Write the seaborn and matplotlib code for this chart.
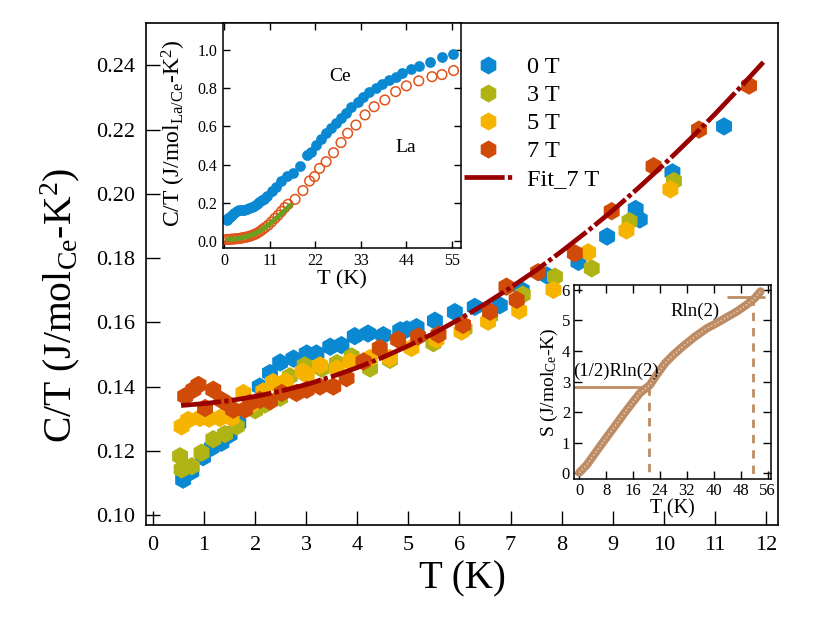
import numpy as np
import pandas as pd
import matplotlib
matplotlib.use("Agg")
import matplotlib.pyplot as plt
import seaborn as sns
from matplotlib.lines import Line2D

# ---------------- main panel data (C/T vs T) ----------------
T_0T = [0.59, 0.75, 0.98, 1.15, 1.34, 1.50, 1.67, 1.90, 2.09, 2.29, 2.49, 2.75, 3.01, 3.20,
        3.47, 3.69, 3.95, 4.21, 4.51, 4.84, 4.97, 5.16, 5.52, 5.91, 6.30, 6.79, 7.22, 7.71,
        8.33, 8.89, 9.45, 9.53, 10.17, 11.18]
C_0T = [0.1110, 0.1135, 0.1180, 0.1210, 0.1225, 0.1250, 0.1285, 0.1337, 0.1400, 0.1442,
        0.1475, 0.1487, 0.1503, 0.1503, 0.1524, 0.1529, 0.1557, 0.1565, 0.1560, 0.1575,
        0.1578, 0.1585, 0.1605, 0.1632, 0.1648, 0.1653, 0.1700, 0.1746, 0.1788, 0.1867,
        0.1953, 0.1920, 0.2067, 0.2210]

T_3T = [0.53, 0.56, 0.76, 0.95, 1.18, 1.41, 1.64, 2.00, 2.19, 2.49, 2.68, 2.97, 3.30, 3.60,
        3.89, 4.25, 4.64, 5.49, 6.10, 6.60, 7.24, 7.87, 8.59, 9.33, 10.20]
C_3T = [0.1183, 0.1142, 0.1152, 0.1194, 0.1236, 0.1252, 0.1276, 0.1326, 0.1344, 0.1365,
        0.1432, 0.1466, 0.1456, 0.1473, 0.1494, 0.1456, 0.1483, 0.1535, 0.1580, 0.1620,
        0.1686, 0.1742, 0.1768, 0.1915, 0.2040]

T_5T = [0.56, 0.69, 0.92, 1.10, 1.31, 1.54, 1.77, 1.95, 2.16, 2.35, 2.60, 2.93, 3.01, 3.27,
        3.60, 3.86, 4.25, 4.64, 5.06, 5.55, 6.04, 6.56, 7.17, 7.84, 8.52, 9.27, 10.13]
C_5T = [0.1276, 0.1296, 0.1302, 0.1300, 0.1302, 0.1302, 0.1380, 0.1345, 0.1385, 0.1414,
        0.1416, 0.1446, 0.1437, 0.1466, 0.1456, 0.1478, 0.1489, 0.1489, 0.1520, 0.1546,
        0.1571, 0.1602, 0.1636, 0.1701, 0.1818, 0.1886, 0.2014]

T_7T = [0.63, 0.79, 0.89, 1.02, 1.18, 1.34, 1.47, 1.57, 1.80, 1.90, 2.09, 2.29, 2.52, 2.81,
        3.01, 3.27, 3.53, 3.79, 4.12, 4.44, 4.80, 5.19, 5.59, 6.07, 6.60, 6.92, 7.12, 7.54,
        8.26, 8.98, 9.80, 10.69, 11.67]
C_7T = [0.1370, 0.1390, 0.1405, 0.1333, 0.1390, 0.1358, 0.1345, 0.1328, 0.1328, 0.1349,
        0.1358, 0.1354, 0.1380, 0.1380, 0.1390, 0.1400, 0.1400, 0.1426, 0.1478, 0.1520,
        0.1546, 0.1556, 0.1562, 0.1592, 0.1633, 0.1711, 0.1670, 0.1756, 0.1815, 0.1946,
        0.2086, 0.2200, 0.2337]

T_fit = [0.55, 1.0, 1.5, 2.0, 2.5, 3.0, 3.5, 4.0, 4.5, 5.0, 5.5, 6.0, 6.5, 7.0, 7.5, 8.0,
         8.5, 9.0, 9.5, 10.0, 10.5, 11.0, 11.5, 11.95]
C_fit = [0.1341, 0.1347, 0.1356, 0.1369, 0.1386, 0.1406, 0.1431, 0.1459, 0.1491, 0.1527,
         0.1566, 0.1610, 0.1657, 0.1708, 0.1762, 0.1821, 0.1883, 0.1948, 0.2018, 0.2091,
         0.2168, 0.2248, 0.2332, 0.2410]

field_labels = ["0 T", "3 T", "5 T", "7 T"]
fit_label = "Fit_7 T"

# ---------------- inset 1 data (Ce and La C/T) ----------------
T_Ce = [0.6, 1.0, 1.4, 1.8, 2.4, 3.0, 3.6, 4.2, 4.8, 5.4, 6.0, 6.6, 7.2, 7.8, 8.4, 9.0, 9.6,
        10.2, 11.4, 12.6, 13.8, 15.1, 16.6, 18.4, 20.0, 21.0, 22.2, 23.4, 24.6, 25.8, 27.0,
        28.2, 29.4, 30.7, 32.2, 33.6, 35.0, 36.6, 38.2, 39.8, 41.4, 43.0, 45.0, 47.0, 49.8,
        52.6, 55.2]
C_Ce = [0.110, 0.118, 0.126, 0.134, 0.146, 0.156, 0.160, 0.162, 0.164, 0.168, 0.172, 0.178,
        0.185, 0.193, 0.202, 0.212, 0.222, 0.234, 0.262, 0.285, 0.312, 0.340, 0.356, 0.393,
        0.448, 0.468, 0.503, 0.532, 0.564, 0.590, 0.616, 0.646, 0.672, 0.700, 0.726, 0.752,
        0.778, 0.800, 0.822, 0.843, 0.860, 0.881, 0.899, 0.916, 0.939, 0.962, 0.977]

T_La = [0.5, 1.0, 1.5, 2.0, 2.5, 3.0, 3.5, 4.0, 4.5, 5.0, 5.5, 6.0, 6.5, 7.0, 7.5, 8.0, 8.6,
        9.2, 9.8, 10.6, 11.4, 12.2, 13.0, 13.8, 14.6, 15.4, 17.1, 19.0, 20.6, 21.8, 23.0,
        24.6, 26.4, 28.2, 29.8, 31.8, 34.0, 36.2, 38.8, 41.4, 44.0, 47.0, 50.2, 52.6, 55.4]
C_La = [0.008, 0.008, 0.009, 0.010, 0.011, 0.012, 0.013, 0.015, 0.017, 0.019, 0.021, 0.024,
        0.028, 0.032, 0.036, 0.042, 0.050, 0.060, 0.070, 0.083, 0.100, 0.118, 0.135, 0.155,
        0.175, 0.192, 0.218, 0.264, 0.314, 0.337, 0.380, 0.415, 0.462, 0.515, 0.564, 0.607,
        0.660, 0.703, 0.738, 0.782, 0.812, 0.838, 0.860, 0.871, 0.892]

T_Lafit = [0.8, 3.0, 5.0, 7.0, 9.0, 11.0, 13.0, 15.0, 16.0]
C_Lafit = [0.008, 0.012, 0.020, 0.035, 0.058, 0.090, 0.128, 0.168, 0.188]

# ---------------- inset 2 data (entropy) ----------------
T_S = [0.0, 2.2, 6.1, 10.1, 14.1, 18.0, 21.0, 23.0, 25.5, 27.9, 30.9, 34.4, 37.9, 40.8,
       43.8, 46.8, 49.7, 52.2, 53.9]
S_val = [0.02, 0.27, 0.87, 1.47, 2.07, 2.62, 2.89, 3.22, 3.60, 3.87, 4.16, 4.47, 4.74, 4.91,
         5.10, 5.29, 5.51, 5.73, 5.95]
S_half = 2.82
S_full = 5.76
T_half = 20.8
T_full = 51.7

# ---------------- style ----------------
sns.set_theme(style="white")
plt.rcParams["font.family"] = ["Liberation Serif", "DejaVu Serif"]
plt.rcParams["mathtext.fontset"] = "custom"
plt.rcParams["mathtext.rm"] = "Liberation Serif"
plt.rcParams["mathtext.it"] = "Liberation Serif:italic"
plt.rcParams["mathtext.bf"] = "Liberation Serif:bold"
plt.rcParams["axes.edgecolor"] = "black"
plt.rcParams["text.color"] = "black"
plt.rcParams["axes.labelcolor"] = "black"
plt.rcParams["xtick.color"] = "black"
plt.rcParams["ytick.color"] = "black"

col_0 = "#0a88d2"
col_3 = "#afb414"
col_5 = "#f6b400"
col_7 = "#d04a08"
col_fit = "#990000"
col_La = "#e0541c"
col_green = "#6aa01e"
col_S = "#be8c64"
fit_dash = (0, (8.5, 0.7, 0.9, 0.7))

fig = plt.figure(figsize=(8.3, 6.2), dpi=100)
ax = fig.add_axes([0.1759, 0.154, 0.7614, 0.8089])

df = pd.concat([
    pd.DataFrame({"T": T_0T, "CT": C_0T, "field": field_labels[0]}),
    pd.DataFrame({"T": T_3T, "CT": C_3T, "field": field_labels[1]}),
    pd.DataFrame({"T": T_5T, "CT": C_5T, "field": field_labels[2]}),
    pd.DataFrame({"T": T_7T, "CT": C_7T, "field": field_labels[3]}),
], ignore_index=True)
pal = dict(zip(field_labels, [col_0, col_3, col_5, col_7]))
sns.scatterplot(data=df, x="T", y="CT", hue="field", palette=pal, marker="h", s=175,
                linewidth=0, ax=ax, legend=False, zorder=2)
sns.lineplot(x=T_fit, y=C_fit, color=col_fit, lw=3.4, linestyle=fit_dash, ax=ax,
             sort=False, estimator=None, zorder=3)

ax.set_xlim(-0.137, 12.236)
ax.set_ylim(0.09704, 0.2532)
ax.set_xticks(range(0, 13))
ax.set_yticks([0.10, 0.12, 0.14, 0.16, 0.18, 0.20, 0.22, 0.24])
ax.set_yticklabels([f"{v:.2f}" for v in [0.10, 0.12, 0.14, 0.16, 0.18, 0.20, 0.22, 0.24]])
ax.tick_params(direction="in", length=10, width=1, labelsize=16, top=False, right=False,
               left=True, bottom=True, pad=8)
for sp in ax.spines.values():
    sp.set_linewidth(1.2)
    sp.set_color("black")
ax.set_xlabel("T (K)", fontsize=28, labelpad=4)
ax.set_ylabel(r"C/T (J/mol$_{\mathrm{Ce}}$-K$^{2}$)", fontsize=28.5)
ax.yaxis.set_label_coords(-0.101, 0.438)

handles = [Line2D([], [], marker="h", ls="none", ms=13, color=c, mec="none")
           for c in [col_0, col_3, col_5, col_7]]
handles.append(Line2D([], [], color=col_fit, lw=3.4, linestyle=fit_dash))
ax.legend(handles, field_labels + [fit_label], loc="upper left",
          bbox_to_anchor=(452 / 830, 1 - 44 / 620), bbox_transform=fig.transFigure,
          frameon=False, fontsize=17.5, handlelength=2.0, handletextpad=0.6,
          labelspacing=0.25, borderpad=0)

# ---------------- inset 1 ----------------
ax1 = fig.add_axes([0.2683, 0.6005, 0.2871, 0.3624])
ax1.set_facecolor("white")
sns.scatterplot(x=T_Ce, y=C_Ce, color=col_0, s=60, linewidth=0, ax=ax1, zorder=2)
sns.scatterplot(x=T_La, y=C_La, marker="o", s=48, facecolors="none", edgecolors=col_La,
                linewidth=1.1, ax=ax1, zorder=2)
sns.lineplot(x=T_Lafit, y=C_Lafit, color=col_green, lw=3.5, ax=ax1, sort=False,
             estimator=None, zorder=3)
ax1.set_xlim(-0.4, 57.2)
ax1.set_ylim(-0.035, 1.141)
ax1.set_xticks([0, 11, 22, 33, 44, 55])
ax1.set_yticks([0.0, 0.2, 0.4, 0.6, 0.8, 1.0])
ax1.set_yticklabels([f"{v:.1f}" for v in [0.0, 0.2, 0.4, 0.6, 0.8, 1.0]])
ax1.tick_params(direction="in", length=5, width=1, labelsize=11.5, top=True, right=True,
                left=True, bottom=True, pad=4)
for sp in ax1.spines.values():
    sp.set_linewidth(1.1)
    sp.set_color("black")
ax1.set_xlabel("T (K)", fontsize=16, labelpad=1)
ax1.set_ylabel(r"C/T (J/mol$_{\mathrm{La/Ce}}$-K$^{2}$)", fontsize=17)
ax1.yaxis.set_label_coords(-0.146, 0.51)
ax1.text(27.9, 0.86, "Ce", fontsize=14, ha="center", va="center")
ax1.text(43.8, 0.49, "La", fontsize=14, ha="center", va="center")

# ---------------- inset 2 ----------------
ax2 = fig.add_axes([0.6919, 0.2274, 0.2366, 0.3129])
ax2.set_facecolor("white")
sns.lineplot(x=T_S, y=S_val, color=col_S, lw=6, ax=ax2, sort=False, estimator=None, zorder=3)
sns.lineplot(x=T_S, y=S_val, color="#ecd6c0", lw=1.0, linestyle=":", ax=ax2, sort=False,
             estimator=None, zorder=4)
ax2.set_xlim(-1.5, 56.9)
ax2.set_ylim(-0.19, 6.16)
ax2.plot([-1.5, T_half], [S_half, S_half], color=col_S, lw=2, zorder=2)
ax2.plot([T_half, T_half], [S_half, -0.19], color=col_S, lw=2, ls=(0, (3, 2.5)), zorder=2)
ax2.plot([44.1, 55.0], [S_full, S_full], color=col_S, lw=2, zorder=2)
ax2.plot([T_full, T_full], [S_full, -0.19], color=col_S, lw=2, ls=(0, (3, 2.5)), zorder=2)
ax2.set_xticks(range(0, 57, 8))
ax2.set_yticks(range(0, 7))
ax2.tick_params(direction="in", length=6, width=1, labelsize=12, top=True, right=True,
                left=True, bottom=True, pad=3)
for sp in ax2.spines.values():
    sp.set_linewidth(1.1)
    sp.set_color("black")
ax2.set_xlabel("T (K)", fontsize=14.5, labelpad=0)
ax2.set_ylabel(r"S (J/mol$_{\mathrm{Ce}}$-K)", fontsize=14, labelpad=1)
ax2.text(-1.9, 3.32, "(1/2)Rln(2)", fontsize=13.5, ha="left", va="center")
ax2.text(34.4, 5.29, "Rln(2)", fontsize=13.5, ha="center", va="center")

fig.savefig("out.png", dpi=100)
